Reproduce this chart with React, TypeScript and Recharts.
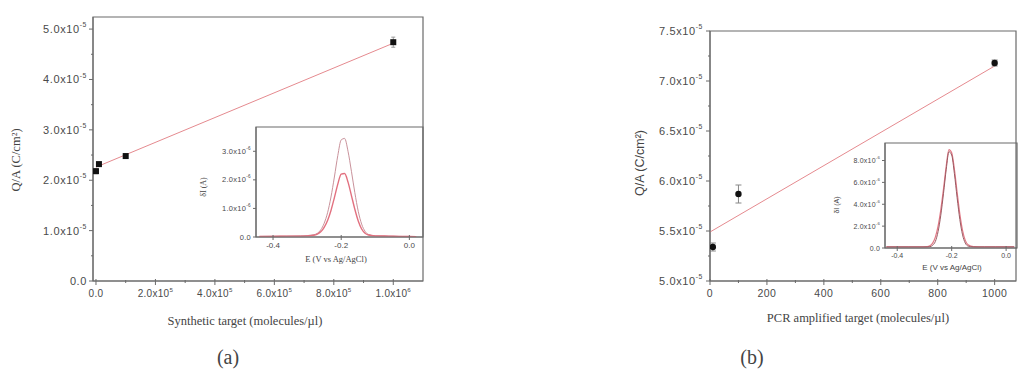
import { ComposedChart, LineChart, Line, Scatter, XAxis, YAxis, ErrorBar, ReferenceArea } from 'recharts'

// panel (a) – synthetic target, Q/A in units of 10^-5 C/cm2
const synthConc = [0, 1e4, 1e5, 1e6]
const synthQA = [2.18, 2.32, 2.48, 4.74]
const synthErr = [0.05, 0.04, 0.03, 0.1]
const synthFitX = [0, 1e6]
const synthFitY = [2.26, 4.72]

const synthXTicks = [0, 2e5, 4e5, 6e5, 8e5, 1e6]
const synthXLabels = [['0.0', ''], ['2.0x10', '5'], ['4.0x10', '5'], ['6.0x10', '5'], ['8.0x10', '5'], ['1.0x10', '6']]
const synthXMinor = [1e5, 3e5, 5e5, 7e5, 9e5]
const synthYTicks = [0, 1, 2, 3, 4, 5]
const synthYLabels = [['0.0', ''], ['1.0x10', '-5'], ['2.0x10', '-5'], ['3.0x10', '-5'], ['4.0x10', '-5'], ['5.0x10', '-5']]
const synthYMinor = [0.5, 1.5, 2.5, 3.5, 4.5]

// inset (a) – DPV peaks, current in 10^-6 A
const dpvAE = [-0.44, -0.4, -0.36, -0.32, -0.3, -0.28, -0.27, -0.26, -0.25, -0.24, -0.23, -0.22, -0.21, -0.2, -0.19, -0.18, -0.17, -0.16, -0.15, -0.14, -0.13, -0.12, -0.1, -0.06, -0.02, 0, 0.02]
const dpvAHigh = [0.02, 0.03, 0.03, 0.04, 0.05, 0.08, 0.13, 0.25, 0.48, 0.85, 1.4, 2.1, 2.85, 3.4, 3.45, 3.0, 2.3, 1.55, 0.9, 0.45, 0.2, 0.09, 0.04, 0.03, 0.02, 0.02, 0.01]
const dpvALow = [0.02, 0.02, 0.03, 0.03, 0.04, 0.06, 0.1, 0.18, 0.34, 0.58, 0.93, 1.38, 1.85, 2.2, 2.22, 1.92, 1.45, 0.97, 0.56, 0.28, 0.13, 0.07, 0.04, 0.03, 0.02, 0.02, 0.01]
const dpvATicksX = [-0.4, -0.2, 0]
const dpvALabelsX = [['-0.4', ''], ['-0.2', ''], ['0.0', '']]
const dpvATicksY = [0, 1, 2, 3]
const dpvALabelsY = [['0.0', ''], ['1.0x10', '-6'], ['2.0x10', '-6'], ['3.0x10', '-6']]

// panel (b) – PCR amplified target
const pcrConc = [10, 100, 1000]
const pcrQA = [5.34, 5.87, 7.18]
const pcrErr = [0.04, 0.09, 0.03]
const pcrFitX = [0, 1000]
const pcrFitY = [5.49, 7.15]

const pcrXTicks = [0, 200, 400, 600, 800, 1000]
const pcrXLabels = [['0', ''], ['200', ''], ['400', ''], ['600', ''], ['800', ''], ['1000', '']]
const pcrXMinor = [100, 300, 500, 700, 900]
const pcrYTicks = [5, 5.5, 6, 6.5, 7, 7.5]
const pcrYLabels = [['5.0x10', '-5'], ['5.5x10', '-5'], ['6.0x10', '-5'], ['6.5x10', '-5'], ['7.0x10', '-5'], ['7.5x10', '-5']]
const pcrYMinor = [5.25, 5.75, 6.25, 6.75, 7.25]

// inset (b)
const dpvBE = [-0.44, -0.4, -0.36, -0.32, -0.29, -0.28, -0.27, -0.26, -0.25, -0.24, -0.23, -0.22, -0.21, -0.2, -0.19, -0.18, -0.17, -0.16, -0.15, -0.14, -0.12, -0.08, -0.04, 0, 0.03]
const dpvBRed = [0.1, 0.1, 0.1, 0.1, 0.12, 0.2, 0.45, 1.0, 2.0, 3.5, 5.4, 7.5, 9.0, 8.7, 7.2, 5.1, 3.1, 1.6, 0.7, 0.3, 0.12, 0.1, 0.1, 0.1, 0.1]
const dpvBDark = [0.1, 0.1, 0.1, 0.1, 0.1, 0.12, 0.25, 0.6, 1.5, 3.0, 5.0, 7.2, 8.8, 8.5, 6.8, 4.6, 2.6, 1.2, 0.45, 0.18, 0.1, 0.1, 0.1, 0.1, 0.1]
const dpvBTicksX = [-0.4, -0.2, 0]
const dpvBLabelsX = [['-0.4', ''], ['-0.2', ''], ['0.0', '']]
const dpvBTicksY = [0, 2, 4, 6, 8]
const dpvBLabelsY = [['0.0', ''], ['2.0x10', '-6'], ['4.0x10', '-6'], ['6.0x10', '-6'], ['8.0x10', '-6']]

const AXIS = '#6a6a6a'
const TXT = '#4a4a4a'
const SANS = 'Liberation Sans, Arial, sans-serif'
const SERIF = 'Liberation Serif, Times New Roman, serif'

const idx = (arr: number[], v: number) => arr.findIndex(t => Math.abs(t - v) < 1e-6 * Math.max(1, Math.abs(t)))

function Lab({ x, y, lab, fs, anchor, dy, baseline, ls }: any) {
  return (
    <text x={x} y={y} dy={dy} textAnchor={anchor} dominantBaseline={baseline} fontSize={fs} fill={TXT} fontFamily={SANS} letterSpacing={ls || 0}>
      {lab[0]}
      {lab[1] ? <tspan dy={-fs * 0.45} fontSize={fs * 0.62}>{lab[1]}</tspan> : null}
    </text>
  )
}

function leftTick(majors: number[], labels: string[][], fs: number, len: number, gap: number, ls = 0) {
  return (p: any) => {
    const i = idx(majors, p.payload.value)
    const ax = p.x + len + gap
    return (
      <g>
        <line x1={ax - (i >= 0 ? len : len / 2)} x2={ax} y1={p.y} y2={p.y} stroke={AXIS} />
        {i >= 0 && <Lab x={p.x} y={p.y} lab={labels[i]} fs={fs} anchor="end" baseline="central" ls={ls} />}
      </g>
    )
  }
}

function bottomTick(majors: number[], labels: string[][], fs: number, len: number, gap: number, ls = 0) {
  return (p: any) => {
    const i = idx(majors, p.payload.value)
    const ay = p.y - len - gap
    return (
      <g>
        <line x1={p.x} x2={p.x} y1={ay - (i >= 0 ? 2 : 1)} y2={ay + (i >= 0 ? len : len / 2)} stroke={AXIS} />
        {i >= 0 && <Lab x={p.x} y={p.y} lab={labels[i]} fs={fs} anchor="middle" dy="0.75em" ls={ls} />}
      </g>
    )
  }
}

function Title({ x, y, text, size, rotate, font }: any) {
  return (
    <div style={{
      position: 'absolute', left: x, top: y, transform: `translate(-50%, -50%)${rotate ? ' rotate(-90deg)' : ''}`,
      whiteSpace: 'nowrap', fontSize: size, fontFamily: font || SERIF, color: '#444', lineHeight: 1,
    }}>{text}</div>
  )
}

const square = (p: any) => <rect x={p.cx - 3} y={p.cy - 3} width={6} height={6} fill="#111" />
const dot = (p: any) => <circle cx={p.cx} cy={p.cy} r={3.2} fill="#111" />

export default function App() {
  const synthPts = synthConc.map((x, i) => ({ x, y: synthQA[i], err: synthErr[i] }))
  const synthFit = synthFitX.map((x, i) => ({ x, y: synthFitY[i] }))
  const pcrPts = pcrConc.map((x, i) => ({ x, y: pcrQA[i], err: pcrErr[i] }))
  const pcrFit = pcrFitX.map((x, i) => ({ x, y: pcrFitY[i] }))
  const dpvA = dpvAE.map((e, i) => ({ e, high: dpvAHigh[i], low: dpvALow[i] }))
  const dpvB = dpvBE.map((e, i) => ({ e, red: dpvBRed[i], dark: dpvBDark[i] }))

  return (
    <div style={{ position: 'absolute', left: 0, top: 0, width: 1018, height: 372, background: '#fff', overflow: 'hidden' }}>
      {/* (a) main */}
      <div style={{ position: 'absolute', left: 0, top: 0 }}>
        <ComposedChart width={430} height={330} margin={{ top: 17, right: 7, bottom: 0, left: 0 }}>
          <XAxis dataKey="x" type="number" domain={[-1e4, 1.1e6]} allowDataOverflow ticks={[...synthXTicks, ...synthXMinor]} interval={0}
            axisLine={{ stroke: AXIS }} tickLine={false} tickSize={4} tickMargin={4} height={49}
            tick={bottomTick(synthXTicks, synthXLabels, 10, 4, 4, 0.3)} />
          <YAxis dataKey="y" type="number" domain={[0, 5.24]} allowDataOverflow ticks={[...synthYTicks, ...synthYMinor]} interval={0}
            axisLine={{ stroke: AXIS }} tickLine={false} tickSize={4} tickMargin={2} width={93}
            tick={leftTick(synthYTicks, synthYLabels, 11, 4, 2, 0.6)} />
          <ReferenceArea x1={-1e4} x2={1.1e6} y1={0} y2={5.24} fill="none" stroke={AXIS} strokeWidth={1.2} ifOverflow="visible" />
          <Line data={synthFit} dataKey="y" stroke="#e58a8f" strokeWidth={1} dot={false} isAnimationActive={false} />
          <Scatter data={synthPts} dataKey="y" shape={square} isAnimationActive={false}>
            <ErrorBar dataKey="err" direction="y" width={2} stroke="#999" strokeWidth={1} />
          </Scatter>
        </ComposedChart>
      </div>

      {/* (a) inset */}
      <div style={{ position: 'absolute', left: 176, top: 120 }}>
        <LineChart width={249} height={150} data={dpvA} margin={{ top: 7, right: 2, bottom: 0, left: 0 }}>
          <XAxis dataKey="e" type="number" domain={[-0.45, 0.04]} allowDataOverflow ticks={dpvATicksX} interval={0}
            axisLine={{ stroke: AXIS }} tickLine={false} tickSize={3} tickMargin={2} height={33}
            tick={bottomTick(dpvATicksX, dpvALabelsX, 8, 3, 2)} />
          <YAxis type="number" domain={[0, 3.85]} allowDataOverflow ticks={dpvATicksY} interval={0}
            axisLine={{ stroke: AXIS }} tickLine={false} tickSize={3} tickMargin={2} width={80}
            tick={leftTick(dpvATicksY, dpvALabelsY, 7.5, 3, 2, 0.3)} />
          <ReferenceArea x1={-0.45} x2={0.04} y1={0} y2={3.85} fill="none" stroke={AXIS} strokeWidth={1.2} ifOverflow="visible" />
          <Line dataKey="high" type="monotone" stroke="#c9929b" strokeWidth={1} dot={false} isAnimationActive={false} />
          <Line dataKey="low" type="monotone" stroke="#e2707f" strokeWidth={1.4} dot={false} isAnimationActive={false} />
        </LineChart>
      </div>

      {/* (b) main */}
      <div style={{ position: 'absolute', left: 620, top: 0 }}>
        <ComposedChart width={398} height={330} margin={{ top: 31, right: 2, bottom: 0, left: 0 }}>
          <XAxis dataKey="x" type="number" domain={[0, 1075]} allowDataOverflow ticks={[...pcrXTicks, ...pcrXMinor]} interval={0}
            axisLine={{ stroke: AXIS }} tickLine={false} tickSize={4} tickMargin={4} height={49}
            tick={bottomTick(pcrXTicks, pcrXLabels, 10.5, 4, 4, 0.5)} />
          <YAxis dataKey="y" type="number" domain={[5, 7.5]} allowDataOverflow ticks={[...pcrYTicks, ...pcrYMinor]} interval={0}
            axisLine={{ stroke: AXIS }} tickLine={false} tickSize={4} tickMargin={3} width={90}
            tick={leftTick(pcrYTicks, pcrYLabels, 11, 4, 3, 0.6)} />
          <ReferenceArea x1={0} x2={1075} y1={5} y2={7.5} fill="none" stroke={AXIS} strokeWidth={1.2} ifOverflow="visible" />
          <Line data={pcrFit} dataKey="y" stroke="#e58a8f" strokeWidth={1} dot={false} isAnimationActive={false} />
          <Scatter data={pcrPts} dataKey="y" shape={dot} isAnimationActive={false}>
            <ErrorBar dataKey="err" direction="y" width={3} stroke="#888" strokeWidth={1} />
          </Scatter>
        </ComposedChart>
      </div>

      {/* (b) inset */}
      <div style={{ position: 'absolute', left: 800, top: 136 }}>
        <LineChart width={218} height={147} data={dpvB} margin={{ top: 7, right: 1, bottom: 0, left: 0 }}>
          <XAxis dataKey="e" type="number" domain={[-0.445, 0.04]} allowDataOverflow ticks={dpvBTicksX} interval={0}
            axisLine={{ stroke: AXIS }} tickLine={false} tickSize={3} tickMargin={2} height={35}
            tick={bottomTick(dpvBTicksX, dpvBLabelsX, 7, 3, 2)} />
          <YAxis type="number" domain={[0, 9.6]} allowDataOverflow ticks={dpvBTicksY} interval={0}
            axisLine={{ stroke: AXIS }} tickLine={false} tickSize={3} tickMargin={2} width={85}
            tick={leftTick(dpvBTicksY, dpvBLabelsY, 7, 3, 2, 0.2)} />
          <ReferenceArea x1={-0.445} x2={0.04} y1={0} y2={9.6} fill="none" stroke={AXIS} strokeWidth={1.2} ifOverflow="visible" />
          <Line dataKey="red" type="monotone" stroke="#e27885" strokeWidth={1.2} dot={false} isAnimationActive={false} />
          <Line dataKey="dark" type="monotone" stroke="#9a5a62" strokeWidth={1} dot={false} isAnimationActive={false} />
        </LineChart>
      </div>

      {/* axis titles */}
      <Title x={16} y={160} text="Q/A (C/cm²)" size={12.5} rotate />
      <Title x={245} y={321} text="Synthetic target (molecules/µl)" size={12.5} />
      <Title x={204} y={187} text="δI (A)" size={8} rotate />
      <Title x={336} y={259} text="E (V vs Ag/AgCl)" size={8.5} />
      <Title x={640} y={163} text="Q/A (C/cm²)" size={12.5} rotate font={SANS} />
      <Title x={858} y={318} text="PCR amplified target (molecules/µl)" size={12.5} />
      <Title x={836} y={205} text="δI (A)" size={7} rotate font={SANS} />
      <Title x={952} y={268} text="E (V vs Ag/AgCl)" size={8} font={SANS} />

      {/* panel captions */}
      <Title x={228} y={357} text="(a)" size={20} />
      <Title x={752} y={357} text="(b)" size={20} />
    </div>
  )
}
